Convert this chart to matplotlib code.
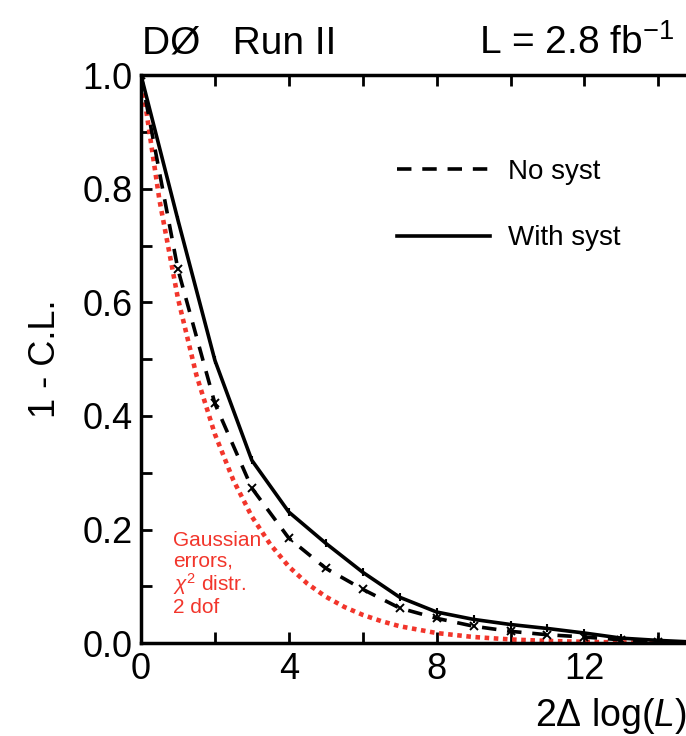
import numpy as np
import matplotlib

matplotlib.use("Agg")
import matplotlib.pyplot as plt

plt.rcParams["font.family"] = ["Liberation Sans", "DejaVu Sans"]
plt.rcParams["mathtext.fontset"] = "custom"
plt.rcParams["mathtext.rm"] = "Liberation Sans"
plt.rcParams["mathtext.it"] = "Liberation Sans:italic"

# values
x_pts = [0, 1, 2, 3, 4, 5, 6, 7, 8, 9, 10, 11, 12, 13, 14, 15]
no_syst = [1.0, 0.658, 0.422, 0.273, 0.185, 0.132, 0.095, 0.062, 0.044, 0.030,
           0.021, 0.015, 0.011, 0.006, 0.003, 0.001]
with_syst = [1.0, 0.745, 0.498, 0.322, 0.231, 0.176, 0.125, 0.081, 0.055, 0.042,
             0.033, 0.026, 0.018, 0.009, 0.005, 0.002]
x_gauss = [0, 0.5, 1, 1.5, 2, 2.5, 3, 3.5, 4, 4.5, 5, 5.5, 6, 6.5, 7, 7.5, 8,
           9, 10, 11, 12, 13, 14, 15]
gauss = [1.0, 0.78, 0.607, 0.472, 0.368, 0.287, 0.223, 0.174, 0.135, 0.105,
         0.082, 0.064, 0.050, 0.039, 0.030, 0.024, 0.018, 0.011, 0.0067,
         0.0041, 0.0025, 0.0015, 0.0009, 0.0006]
xticks = [0, 4, 8, 12]
yticks = [0.0, 0.2, 0.4, 0.6, 0.8, 1.0]

fig = plt.figure(figsize=(6.86, 7.36), dpi=100)
ax = fig.add_axes([0.2055, 0.126, 0.80, 0.772])

red = "#f2352b"
ax.plot(x_gauss, gauss, color=red, ls=(0, (1, 1)), lw=3.3, zorder=2)
ax.plot(x_pts, no_syst, color="k", ls=(0, (4, 3)), lw=2.6, marker="x",
        ms=6, mew=1.4, label="No syst", zorder=3)
ax.plot(x_pts, with_syst, color="k", ls="-", lw=2.6, marker="|",
        ms=6, mew=1.5, label="With syst", zorder=3)

ax.set_xlim(0, 14.85)
ax.set_ylim(0, 1.0)
ax.set_xticks(xticks)
ax.set_xticks([2, 6, 10, 14], minor=True)
ax.set_yticks(yticks)
ax.set_yticklabels([f"{v:.1f}" for v in yticks])
ax.set_yticks([0.1, 0.3, 0.5, 0.7, 0.9], minor=True)
ax.tick_params(which="both", direction="in", top=True, right=False,
               length=8, width=2, labelsize=26, pad=6)
for s in ["left", "bottom", "top"]:
    ax.spines[s].set_linewidth(2.5)
ax.spines["right"].set_visible(False)

ax.set_ylabel("1 - C.L.", fontsize=26, labelpad=14)
ax.text(0.9945, -0.145, r"2$\Delta$ log($L$)", transform=ax.transAxes,
        fontsize=27, ha="right", va="baseline")

handles, labels = ax.get_legend_handles_labels()
leg = ax.legend(handles, labels, loc="upper left", bbox_to_anchor=(0.466, 0.852),
                frameon=False, fontsize=20, handlelength=3.35, labelspacing=1.45,
                handletextpad=0.65, borderpad=0, borderaxespad=0)
for h in leg.legend_handles:
    h.set_marker("")

ax.text(0.058, 0.197, "Gaussian\nerrors,\n$\\chi^2$ distr.\n2 dof", transform=ax.transAxes,
        color=red, fontsize=15, va="top", ha="left", linespacing=1.05)

fig.text(0.207, 0.927, "DØ   Run II", fontsize=28, ha="left", va="baseline")
fig.text(0.983, 0.927, r"L = 2.8 fb$^{-1}$", fontsize=28, ha="right", va="baseline")

fig.savefig("out.png", dpi=100)
